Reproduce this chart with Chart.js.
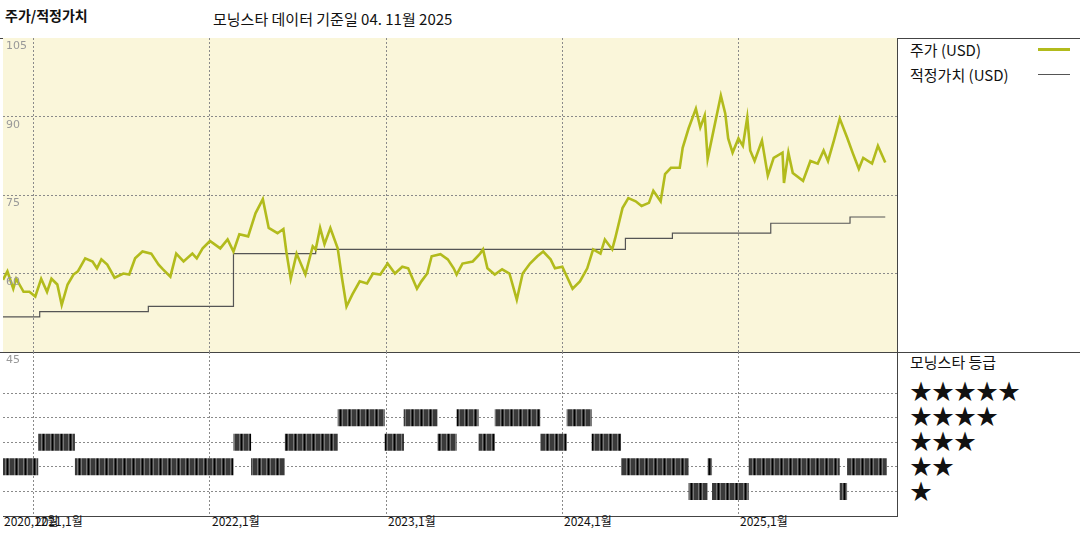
<!DOCTYPE html>
<html><head><meta charset="utf-8">
<script src="https://cdn.jsdelivr.net/npm/chart.js@4"></script>
<style>
body{margin:0;width:1080px;height:540px;background:#fff;font-family:"Noto Sans CJK KR","Noto Sans",sans-serif;position:relative;overflow:hidden}
.t{position:absolute;white-space:nowrap;color:#111}
.hl{position:absolute;background:#444}
canvas{position:absolute}
</style></head><body>
<div class="t" style="left:5px;top:5px;font-size:14px;font-weight:bold">주가/적정가치</div>
<div class="t" style="left:213px;top:8px;font-size:15px">모닝스타 데이터 기준일 04. 11월 2025</div>
<div class="hl" style="left:0;top:38px;width:1080px;height:1px"></div>
<div class="hl" style="left:0;top:352px;width:1080px;height:1px"></div>
<div class="hl" style="left:3px;top:516px;width:894px;height:1px"></div>
<div class="hl" style="left:897px;top:38px;width:1px;height:479px"></div>
<div class="t" style="left:910px;top:39px;font-size:15px">주가 (USD)</div>
<div style="position:absolute;left:1038px;top:48px;width:32px;height:3px;background:#b2bb1c"></div>
<div class="t" style="left:910px;top:64px;font-size:15px">적정가치 (USD)</div>
<div style="position:absolute;left:1038px;top:74px;width:32px;height:1px;background:#555"></div>
<div class="t" style="left:910px;top:351px;font-size:15px">모닝스타 등급</div>
<div class="t" style="left:910px;top:377px;font-size:22px;line-height:25px">★★★★★<br>★★★★<br>★★★<br>★★<br>★</div>
<div class="t" style="left:4px;top:512px;font-size:12px">2020,12월</div>
<div class="t" style="left:35px;top:512px;font-size:12px">2021,1월</div>
<div class="t" style="left:212px;top:512px;font-size:12px">2022,1월</div>
<div class="t" style="left:388px;top:512px;font-size:12px">2023,1월</div>
<div class="t" style="left:564px;top:512px;font-size:12px">2024,1월</div>
<div class="t" style="left:740px;top:512px;font-size:12px">2025,1월</div>
<canvas id="top" style="left:3px;top:38px;width:894px;height:314px"></canvas>
<canvas id="bot" style="left:3px;top:352px;width:894px;height:164px"></canvas>
<script>
// x values are months since Jan 2021
const priceMonth=[-2.1,-1.8,-1.4,-1.2,-0.7,-0.3,0.1,0.5,0.9,1.2,1.6,1.9,2.3,2.7,3.0,3.5,4.0,4.3,4.6,5.0,5.5,6.1,6.5,6.9,7.4,8.0,8.5,8.8,9.3,9.7,10.2,10.8,11.1,11.5,12.0,12.7,13.2,13.6,14.0,14.6,15.1,15.6,16.0,16.6,17.0,17.2,17.5,17.9,18.5,19.0,19.2,19.5,19.8,20.2,20.7,21.0,21.3,21.7,22.2,22.7,23.1,23.6,24.1,24.6,25.1,25.5,26.1,26.4,26.8,27.1,27.7,28.2,28.6,28.8,29.2,29.9,30.4,30.6,30.9,31.4,31.9,32.4,32.9,33.3,33.8,34.3,34.7,35.2,35.5,36.0,36.7,37.2,37.7,38.1,38.6,38.9,39.4,39.6,40.1,40.5,41.0,41.4,41.9,42.2,42.7,43.0,43.4,44.0,44.2,44.6,45.1,45.4,45.7,45.9,46.3,46.8,47.1,47.3,47.6,48.0,48.3,48.6,48.8,49.1,49.6,50.0,50.4,51.0,51.1,51.4,51.7,52.4,52.9,53.4,53.8,54.1,54.5,54.9,55.4,55.8,56.2,56.5,57.1,57.5,57.8,58.0];
const priceValue=[58.8,60.4,57.1,59.0,56.5,56.5,55.6,59.0,56.5,59.0,57.9,54.0,57.9,59.8,60.4,62.9,62.3,61.0,62.7,61.7,59.2,60.0,59.8,62.9,64.2,63.8,61.7,60.8,59.4,63.8,62.3,63.8,62.9,64.8,66.2,64.8,66.5,64.2,67.5,67.1,71.5,74.2,68.7,67.7,68.5,64.2,59.0,63.8,59.8,65.2,64.6,68.7,65.6,68.7,64.8,59.0,53.7,56.0,58.5,58.1,60.0,59.8,61.9,60.0,61.3,61.0,57.1,58.5,60.0,63.3,63.7,62.7,61.0,59.8,61.9,62.3,63.8,64.6,61.0,59.8,60.8,60.0,55.0,60.0,61.9,63.3,64.2,62.7,61.0,61.3,57.1,58.5,61.0,64.6,63.8,66.5,64.6,66.7,72.5,74.4,73.8,72.9,73.5,75.8,73.8,79.0,80.2,80.2,84.0,87.7,91.5,87.9,90.2,81.9,87.3,94.0,90.6,85.8,83.1,85.8,84.4,89.8,83.5,81.5,85.4,78.7,82.1,83.1,77.3,83.1,79.2,77.7,81.5,81.0,83.5,81.5,85.4,89.6,86.0,82.9,80.0,82.1,81.0,84.4,82.5,81.2];
const fairMonth=[-2.1,0.4,0.4,7.8,7.8,13.6,13.6,19.2,19.2,40.3,40.3,43.5,43.5,50.2,50.2,55.6,55.6,58.0];
const fairValue=[51.7,51.7,52.7,52.7,53.7,53.7,63.8,63.8,64.6,64.6,66.7,66.7,67.7,67.7,69.6,69.6,70.8,70.8];
const ratingStart=[-2.1,0.3,2.8,13.6,14.8,17.1,20.7,23.9,25.2,27.5,28.8,30.3,31.4,34.5,36.3,38.0,40.0,44.6,45.9,46.2,48.7,54.9,55.4];
const ratingEnd=[0.3,2.8,13.6,14.8,17.1,20.7,23.9,25.2,27.5,28.8,30.3,31.4,34.5,36.3,38.0,40.0,44.6,45.9,46.2,48.7,54.9,55.4,58.1];
const ratingStars=[2,3,2,3,2,3,4,3,4,3,4,3,4,3,4,3,2,1,2,1,2,1,2];
const yearTicks=[0,12,24,36,48];
const priceTicks=[60,75,90];

const X_MIN=-2.1,X_MAX=58.8;
const gridC='#8a8a8a';

const bgPlugin={id:'bg',beforeDraw(c,a,o){if(!o.color)return;const {ctx,chartArea:r}=c;ctx.save();ctx.fillStyle=o.color;ctx.fillRect(r.left,r.top,r.width,r.height);ctx.restore();}};
const labelPlugin={id:'lbl',afterDraw(c,a,o){if(!o.items)return;const {ctx}=c;ctx.save();ctx.fillStyle='#999';ctx.font='11px "DejaVu Sans"';ctx.textBaseline='top';
  o.items.forEach(([v,t])=>{ctx.fillText(t,c.chartArea.left+3,c.scales.y.getPixelForValue(v)+3);});ctx.restore();}};

function xAxis(){return {type:'linear',min:X_MIN,max:X_MAX,
  afterBuildTicks:ax=>{ax.ticks=yearTicks.map(v=>({value:v}));},
  grid:{color:gridC,drawTicks:false},border:{display:false,dash:[2,2]},ticks:{display:false}};}

new Chart(document.getElementById('top'),{
  type:'line',
  data:{datasets:[
    {data:priceMonth.map((m,i)=>({x:m,y:priceValue[i]})),borderColor:'#b2bb1c',borderWidth:2.6,pointRadius:0,tension:0},
    {data:fairMonth.map((m,i)=>({x:m,y:fairValue[i]})),borderColor:'#555',borderWidth:1.2,pointRadius:0,tension:0}
  ]},
  options:{animation:false,responsive:false,maintainAspectRatio:false,layout:{padding:0},
    plugins:{legend:{display:false},tooltip:{enabled:false},bg:{color:'#faf6da'},
      lbl:{items:[[105,'105'],[90,'90'],[75,'75'],[60,'60']]}},
    scales:{x:xAxis(),
      y:{min:45,max:105,afterBuildTicks:ax=>{ax.ticks=priceTicks.map(v=>({value:v}));},
        grid:{color:gridC,drawTicks:false},border:{display:false,dash:[2,2]},ticks:{display:false}}}},
  plugins:[bgPlugin,labelPlugin]
});

// striped fill for rating bars
const pc=document.createElement('canvas');pc.width=9;pc.height=4;
const pctx=pc.getContext('2d');pctx.fillStyle='#3a3a3a';pctx.fillRect(0,0,9,4);
pctx.fillStyle='#777';pctx.fillRect(2,0,1,4);pctx.fillRect(6,0,1,4);
pctx.fillStyle='#000';pctx.fillRect(4,0,1,4);
const stripe=pctx.createPattern(pc,'repeat');

const ratingData=[];
ratingStars.forEach((r,i)=>{ratingData.push({x:ratingStart[i],y:r},{x:ratingEnd[i],y:r},{x:ratingEnd[i],y:null});});

new Chart(document.getElementById('bot'),{
  type:'line',
  data:{datasets:[{data:ratingData,borderColor:stripe,borderWidth:17,borderCapStyle:'butt',pointRadius:0,spanGaps:false}]},
  options:{animation:false,responsive:false,maintainAspectRatio:false,layout:{padding:0},
    plugins:{legend:{display:false},tooltip:{enabled:false},lbl:{items:[[6.67,'45']]}},
    scales:{x:xAxis(),
      y:{min:0,max:6.67,afterBuildTicks:ax=>{ax.ticks=[1,2,3,4,5].map(v=>({value:v}));},
        grid:{color:gridC,drawTicks:false},border:{display:false,dash:[2,2]},ticks:{display:false}}}},
  plugins:[labelPlugin]
});
</script>
</body></html>
